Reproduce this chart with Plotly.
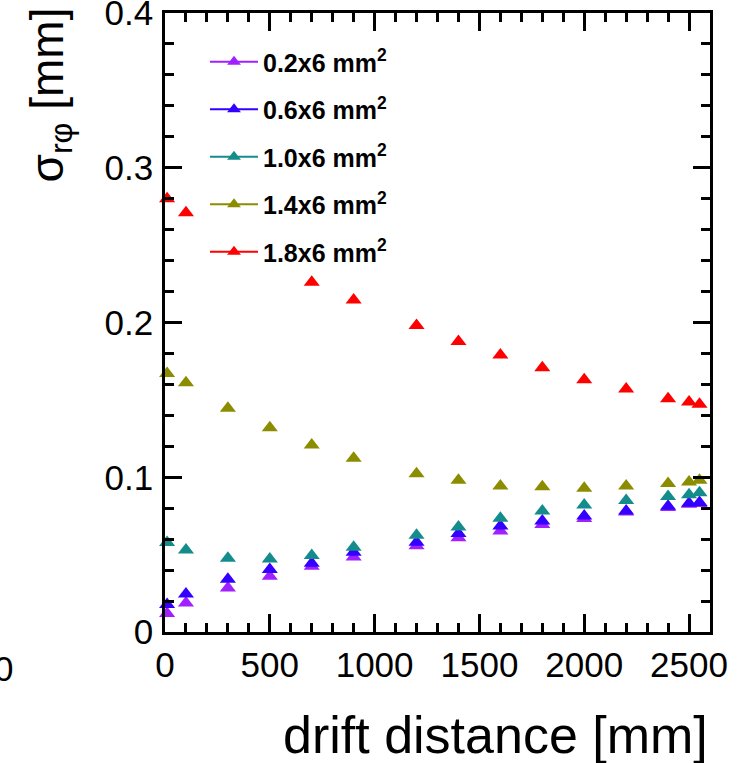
import plotly.graph_objects as go

# drift distance [mm]
drift = [10, 100, 300, 500, 700, 900, 1200, 1400, 1600, 1800, 2000, 2200, 2400, 2500, 2550]
drift_18 = [10, 100, 700, 900, 1200, 1400, 1600, 1800, 2000, 2200, 2400, 2500, 2550]

# spatial resolution sigma_rphi [mm] per pad size
sig_02 = [0.012, 0.0188, 0.0285, 0.036, 0.0425, 0.0485, 0.0558, 0.0609, 0.0652, 0.0695, 0.0733, 0.0775, 0.0805, 0.0825, 0.083]
sig_06 = [0.0177, 0.0245, 0.0341, 0.0404, 0.0445, 0.0515, 0.058, 0.0636, 0.0685, 0.0717, 0.075, 0.0782, 0.0812, 0.0832, 0.0837]
sig_10 = [0.0578, 0.053, 0.0476, 0.0471, 0.0494, 0.0547, 0.0625, 0.0679, 0.0735, 0.0782, 0.082, 0.085, 0.0876, 0.0887, 0.090]
sig_14 = [0.167, 0.161, 0.1446, 0.132, 0.1208, 0.1122, 0.1022, 0.0981, 0.0944, 0.0938, 0.0929, 0.0944, 0.096, 0.097, 0.098]
sig_18 = [0.28, 0.271, 0.226, 0.2145, 0.198, 0.1877, 0.179, 0.1708, 0.163, 0.157, 0.1507, 0.1486, 0.1472]

labels = ["0.2x6 mm<sup>2</sup>", "0.6x6 mm<sup>2</sup>", "1.0x6 mm<sup>2</sup>",
          "1.4x6 mm<sup>2</sup>", "1.8x6 mm<sup>2</sup>"]
colors = ["#a020ff", "#3300ff", "#148c8c", "#8c8c00", "#ff0000"]

x_range = [0, 2600]
y_range = [0, 0.4]
x_ticks = [0, 500, 1000, 1500, 2000, 2500]
y_ticks = [0, 0.1, 0.2, 0.3, 0.4]
y_ticktext = ["0", "0.1", "0.2", "0.3", "0.4"]

FONT = "Liberation Sans, Arial, sans-serif"

series = [
    (drift, sig_02), (drift, sig_06), (drift, sig_10), (drift, sig_14), (drift_18, sig_18)
]

fig = go.Figure()
for i, ((xs, ys), name, col) in enumerate(zip(series, labels, colors)):
    fig.add_trace(go.Scatter(
        x=xs, y=ys, mode="markers", showlegend=False,
        marker=dict(symbol="triangle-up", size=14, color=col, line=dict(width=0)),
        cliponaxis=False,
    ))
    # legend entry with line + marker
    fig.add_trace(go.Scatter(
        x=[None], y=[None], mode="lines+markers", name=name, legendgroup=f"g{i}",
        marker=dict(symbol="triangle-up", size=12, color=col),
        line=dict(color=col, width=2),
    ))

axis_common = dict(
    showgrid=False, zeroline=False, showline=True, linecolor="black", linewidth=2.5,
    mirror="allticks", ticks="inside", tickcolor="black", tickwidth=2.5,
    tickfont=dict(family=FONT, size=35, color="black"),
    ticklabeloverflow="allow", automargin=False,
)

fig.update_xaxes(
    range=x_range, tickvals=x_ticks, ticklen=18,
    minor=dict(dtick=100, ticks="inside", ticklen=9, tickcolor="black", tickwidth=2.5),
    **axis_common,
)
fig.update_yaxes(
    range=y_range, tickvals=y_ticks, ticktext=y_ticktext, ticklen=17,
    minor=dict(dtick=0.02, ticks="inside", ticklen=9, tickcolor="black", tickwidth=2.5),
    ticklabelstandoff=2,
    **axis_common,
)

L, R, T, B = 165, 30, 13, 131
W, H = 740, 763
pw, ph = W - L - R, H - T - B

def px_x(p):
    return (p - L) / pw

def px_y(p):
    return (H - B - p) / ph

fig.add_annotation(
    text="drift distance [mm]", xref="paper", yref="paper",
    x=px_x(710), y=px_y(735), xanchor="right", yanchor="middle",
    showarrow=False, font=dict(family=FONT, size=52, color="black"),
)
fig.add_annotation(
    text="σ<sub>rφ</sub> [mm]", xref="paper", yref="paper",
    x=px_x(50), y=px_y(6), xanchor="center", yanchor="top", textangle=-90,
    showarrow=False, font=dict(family=FONT, size=46, color="black"),
)
fig.add_annotation(
    text="0", xref="paper", yref="paper",
    x=px_x(3), y=px_y(668), xanchor="center", yanchor="middle",
    showarrow=False, font=dict(family=FONT, size=35, color="black"),
)

fig.update_layout(
    width=W, height=H,
    margin=dict(l=L, r=R, t=T, b=B, autoexpand=False),
    paper_bgcolor="white", plot_bgcolor="white",
    showlegend=True,
    legend=dict(
        x=px_x(205), y=px_y(39), xanchor="left", yanchor="top",
        font=dict(family=FONT, size=25, color="black", weight="bold"),
        bgcolor="rgba(255,255,255,0)", borderwidth=0,
        tracegroupgap=12, itemwidth=48,
    ),
)

fig.write_html("out.html")
